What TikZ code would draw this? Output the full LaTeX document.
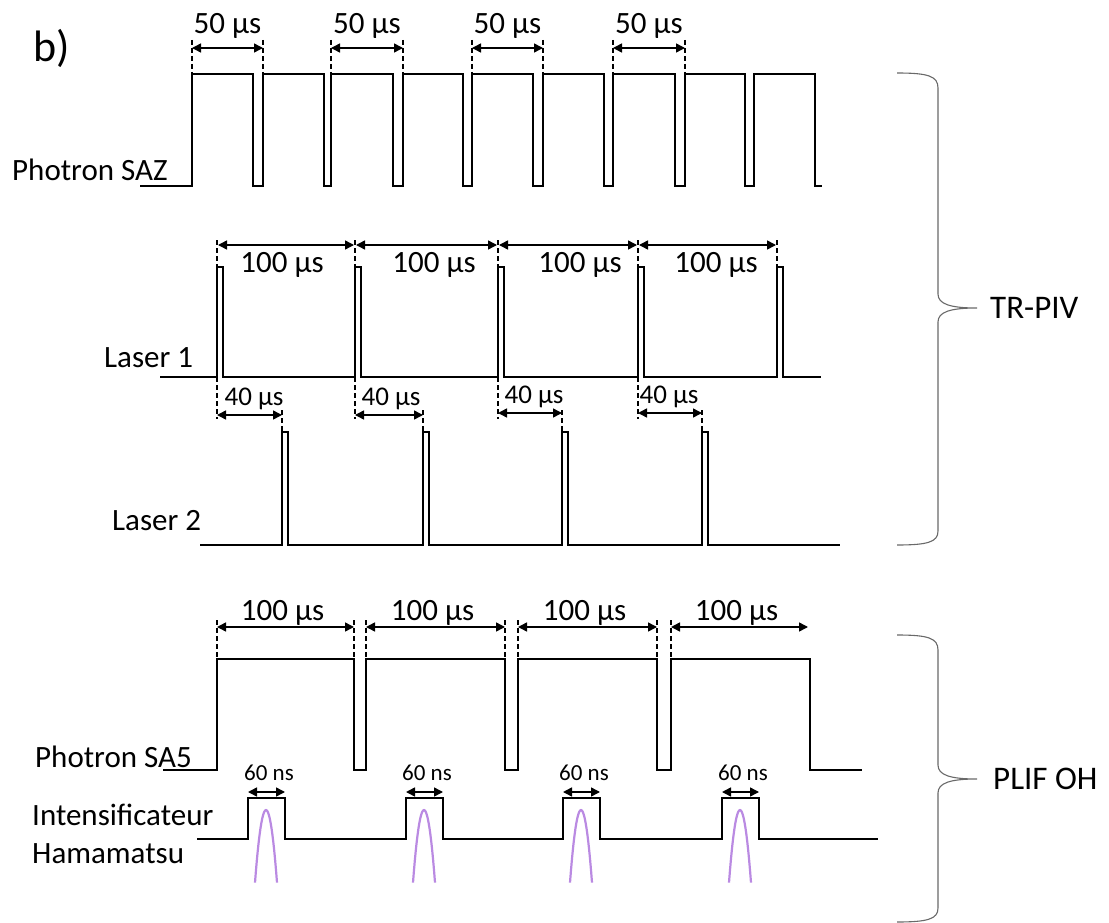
\documentclass[tikz,border=0pt]{standalone}
\usepackage{fontspec}
\setmainfont{Carlito}
\usepackage{xcolor}
\definecolor{PulseViolet}{RGB}{186,138,226}
\definecolor{BraceGray}{RGB}{105,105,105}
\usepackage{tikz}
\usetikzlibrary{
    arrows.meta,
    positioning,
    calc
}

\begin{document}
\begin{tikzpicture}[
    x=1pt,
    y=-1pt,
    signal/.style={
        line width=1.8pt
    },
    guide/.style={
        line width=1.3pt,
        dash pattern=on 5pt off 3pt
    },
    dimarrow/.style={
        {Triangle[length=9pt,width=9pt]}-{Triangle[length=9pt,width=9pt]},
        line width=1.5pt
    },
    chan/.style={
        inner sep=0pt,
        anchor=base west,
        font=\fontsize{31}{36}\selectfont
    },
    dimtext/.style={
        inner sep=0pt,
        anchor=base,
        font=\fontsize{31}{36}\selectfont
    },
    smalltext/.style={
        dimtext,
        font=\fontsize{27}{32}\selectfont
    },
    tinytext/.style={
        dimtext,
        font=\fontsize{23}{28}\selectfont
    },
    curly/.style={
        draw=BraceGray,
        line width=1.1pt
    },
    glow/.style={
        PulseViolet,
        line width=2.2pt
    },
    group/.style={
        inner sep=0pt,
        anchor=west,
        font=\fontsize{33}{38}\selectfont
    }
]
%
    \useasboundingbox (0,0) rectangle (1109,923);
%
    \node[
        anchor=base west,
        inner sep=0pt,
        font=\fontsize{44}{50}\selectfont
    ] (panel) at (33,62) {b)};
%
    % Photron SAZ
%
    \node[chan] (saz) at (12,181) {Photron SAZ};
    \draw[signal]
    (140,186) -- (192,186) -- (192,74)
    foreach \a/\b in {253/263, 324/331, 393/403, 463/472, 533/543, 604/613, 675/685, 745/754} {
        -- (\a,74) -- (\a,186) -- (\b,186) -- (\b,74)
    }
    -- (815,74) -- (815,186) -- (822,186);
    \foreach \x in {192,263,331,403,472,543,613,685} {
        \draw[guide] (\x,40) -- (\x,74);
    }
    \foreach \a/\b [count=\i] in {192/263, 331/403, 472/543, 613/685} {
        \coordinate (saz-a\i) at (\a,48);
        \coordinate (saz-b\i) at (\b,48);
        \draw[dimarrow] (saz-a\i) -- (saz-b\i);
        \node[dimtext] (saz-t\i) at ({(\a+\b)/2},34) {50 µs};
    }
%
    % Laser 1
%
    \node[chan] (las1) at (104,367) {Laser 1};
    \draw[signal]
    (160,377)
    foreach \p in {217,355,498,638,777} {
        -- (\p,377) -- (\p,267) -- ({\p+6},267) -- ({\p+6},377)
    }
    -- (821,377);
    \foreach \x in {217,355,498,638,777} {
        \draw[guide] (\x,240) -- (\x,267);
    }
    \foreach \x in {217,355,498,638} {
        \draw[guide] (\x,377) -- (\x,419);
    }
    \foreach \a/\b/\c [count=\i] in {217/355/282, 355/498/434, 498/638/580, 638/777/716} {
        \coordinate (las1-a\i) at ({\a+1},245);
        \coordinate (las1-b\i) at ({\b-1},245);
        \draw[dimarrow] (las1-a\i) -- (las1-b\i);
        \node[dimtext] (las1-t\i) at (\c,272) {100 µs};
    }
%
    % Laser 2
%
    \node[chan] (las2) at (112,530) {Laser 2};
    \draw[signal]
    (200,545)
    foreach \p in {282,423,562,702} {
        -- (\p,545) -- (\p,432) -- ({\p+6},432) -- ({\p+6},545)
    }
    -- (840,545);
    \foreach \x in {282,423,562,702} {
        \draw[guide] (\x,410) -- (\x,432);
    }
    \foreach \a/\b/\c/\y [count=\i] in {217/282/254/415, 355/423/391/415, 498/562/534/413, 638/702/669/413} {
        \coordinate (las2-a\i) at (\a,\y);
        \coordinate (las2-b\i) at (\b,\y);
        \draw[dimarrow] (las2-a\i) -- (las2-b\i);
        \node[smalltext] (las2-t\i) at (\c,{\y-10}) {40 µs};
    }
%
    % Photron SA5
%
    \node[chan] (sa5) at (35,767) {Photron SA5};
    \draw[signal]
    (163,770) -- (217,770) -- (217,659)
    foreach \a/\b in {354/366, 505/518, 657/671} {
        -- (\a,659) -- (\a,770) -- (\b,770) -- (\b,659)
    }
    -- (810,659) -- (810,770) -- (862,770);
    \foreach \x in {217,366,518,671} {
        \draw[guide] (\x,620) -- (\x,659);
    }
    \foreach \x in {354,505,657} {
        \draw[guide] (\x,620) -- (\x,676);
    }
    \foreach \a/\b [count=\i] in {217/354, 366/505, 518/657, 671/808} {
        \coordinate (sa5-a\i) at (\a,627);
        \coordinate (sa5-b\i) at (\b,627);
        \draw[dimarrow] (sa5-a\i) -- (sa5-b\i);
        \node[dimtext] (sa5-t\i) at ({(\a+\b)/2-3},620) {100 µs};
    }
%
    % Intensificateur
%
    \node[chan] (int) at (32,825) {Intensificateur};
    \node[chan] (ham) at (32,863) {Hamamatsu};
    \draw[signal]
    (197,839)
    foreach \p in {248,406,563,722} {
        -- (\p,839) -- (\p,798) -- ({\p+37},798) -- ({\p+37},839)
    }
    -- (878,839);
    \foreach \p [count=\i] in {248,406,563,722} {
        \coordinate (int-a\i) at (\p,792);
        \coordinate (int-b\i) at ({\p+37},792);
        \draw[dimarrow] (int-a\i) -- (int-b\i);
        \node[tinytext] (int-t\i) at ({\p+21},780) {60 ns};
        \draw[glow]
        plot[domain=-11:11, samples=25] ({\p+18+\x}, {810+0.6*\x*\x});
    }
%
    % Braces
%
    \coordinate (piv-tip) at (977,308);
    \draw[curly]
    (897,73) .. controls (928,73) and (938,76) .. (938,88)
    -- (938,294) .. controls (938,304) and (950,308) .. (piv-tip)
    .. controls (950,308) and (938,312) .. (938,322)
    -- (938,531) .. controls (938,542) and (928,545) .. (897,545);
    \node[group, right=13pt of piv-tip] (piv) {TR-PIV};
%
    \coordinate (plif-tip) at (977,779);
    \draw[curly]
    (897,635) .. controls (928,635) and (938,638) .. (938,650)
    -- (938,765) .. controls (938,775) and (950,779) .. (plif-tip)
    .. controls (950,779) and (938,783) .. (938,793)
    -- (938,908) .. controls (938,919) and (928,922) .. (897,922);
    \node[group, right=16pt of plif-tip] (plif) {PLIF OH};
%
\end{tikzpicture}
\end{document}
